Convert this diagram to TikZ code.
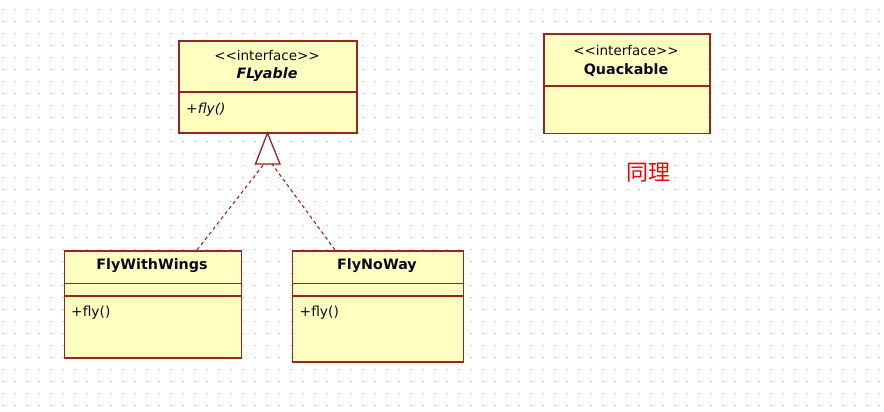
\documentclass[tikz,border=0pt]{standalone}
\usepackage{fontspec}
\setmainfont{DejaVu Sans}
\newfontfamily\cjk{Noto Sans CJK SC}
\begin{document}
\begin{tikzpicture}[x=1pt,y=-1pt,
  umlbox/.style={draw=umlborder, fill=umlfill, line width=1.6pt, rectangle, inner sep=0pt, anchor=north west},
  umlline/.style={draw=umlborder, line width=1.6pt},
  stereo/.style={font=\fontsize{13.5}{15}\selectfont, text=umltext, inner sep=0pt},
  cname/.style={font=\fontsize{14.3}{16}\selectfont\bfseries, text=umltext, inner sep=0pt},
  oper/.style={font=\fontsize{13.8}{15}\selectfont, text=umltext, inner sep=0pt, anchor=west},
  realize/.style={draw=umlborder, line width=1.1pt, dash pattern=on 3.5pt off 3pt}
]
\definecolor{umlborder}{RGB}{155,35,35}
\definecolor{umlfill}{RGB}{255,255,192}
\definecolor{umltext}{RGB}{10,10,30}
\definecolor{griddot}{RGB}{205,205,205}
\useasboundingbox (0,0) rectangle (884,412);
\fill[white] (0,0) rectangle (884,412);
% dot grid
\foreach \i in {0,...,73} {
  \foreach \j in {0,...,33} {
    \fill[griddot] ({3+12*\i-0.9},{9.5+12*\j-0.9}) rectangle ++(1.8,1.8);
  }
}
% FLyable
\node[umlbox, minimum width=178pt, minimum height=92pt] (fly) at (178,40) {};
\draw[umlline] (178,92) -- (356,92);
\node[stereo] (flyst) at (267,55) {<{}<interface>{}>};
\node[cname, font=\fontsize{14.3}{16}\selectfont\bfseries\itshape] (flyname) at (267,75) {FLyable};
\node[oper, font=\fontsize{13.8}{15}\selectfont\itshape] (flyop) at (186,109.5) {+fly()};
% Quackable
\node[umlbox, minimum width=166pt, minimum height=99pt] (quack) at (543,33.5) {};
\draw[umlline] (543,86) -- (709,86);
\node[stereo] (quackst) at (626,50.5) {<{}<interface>{}>};
\node[cname] (quackname) at (626,70) {Quackable};
% FlyWithWings
\node[umlbox, minimum width=177pt, minimum height=107pt] (fww) at (63.5,250) {};
\draw[umlline] (63.5,283.5) -- (240.5,283.5);
\draw[umlline] (63.5,296) -- (240.5,296);
\node[cname] (fwwname) at (152,266) {FlyWithWings};
\node[oper] (fwwop) at (71,313) {+fly()};
% FlyNoWay
\node[umlbox, minimum width=171pt, minimum height=111pt] (fnw) at (291.5,250) {};
\draw[umlline] (291.5,283.5) -- (462.5,283.5);
\draw[umlline] (291.5,296) -- (462.5,296);
\node[cname] (fnwname) at (377,266) {FlyNoWay};
\node[oper] (fnwop) at (299.5,313) {+fly()};
% realization triangle
\coordinate (apex) at (267.5,133);
\coordinate (basel) at (255.5,164);
\coordinate (baser) at (280,164);
\draw[draw=umlborder, line width=1.3pt, fill=white, line join=miter] (apex) -- (basel) -- (baser) -- cycle;
\coordinate (fwwtop) at (197,250);
\coordinate (fnwtop) at (335,250);
\coordinate (tl) at (264,164);
\coordinate (tr) at (272,164);
\draw[realize] (fwwtop) -- (tl);
\draw[realize] (fnwtop) -- (tr);
% note text
\node[text=red, font=\cjk\fontsize{22}{26}\selectfont, inner sep=0pt] (same) at (648,173) {同理};
\end{tikzpicture}
\end{document}
